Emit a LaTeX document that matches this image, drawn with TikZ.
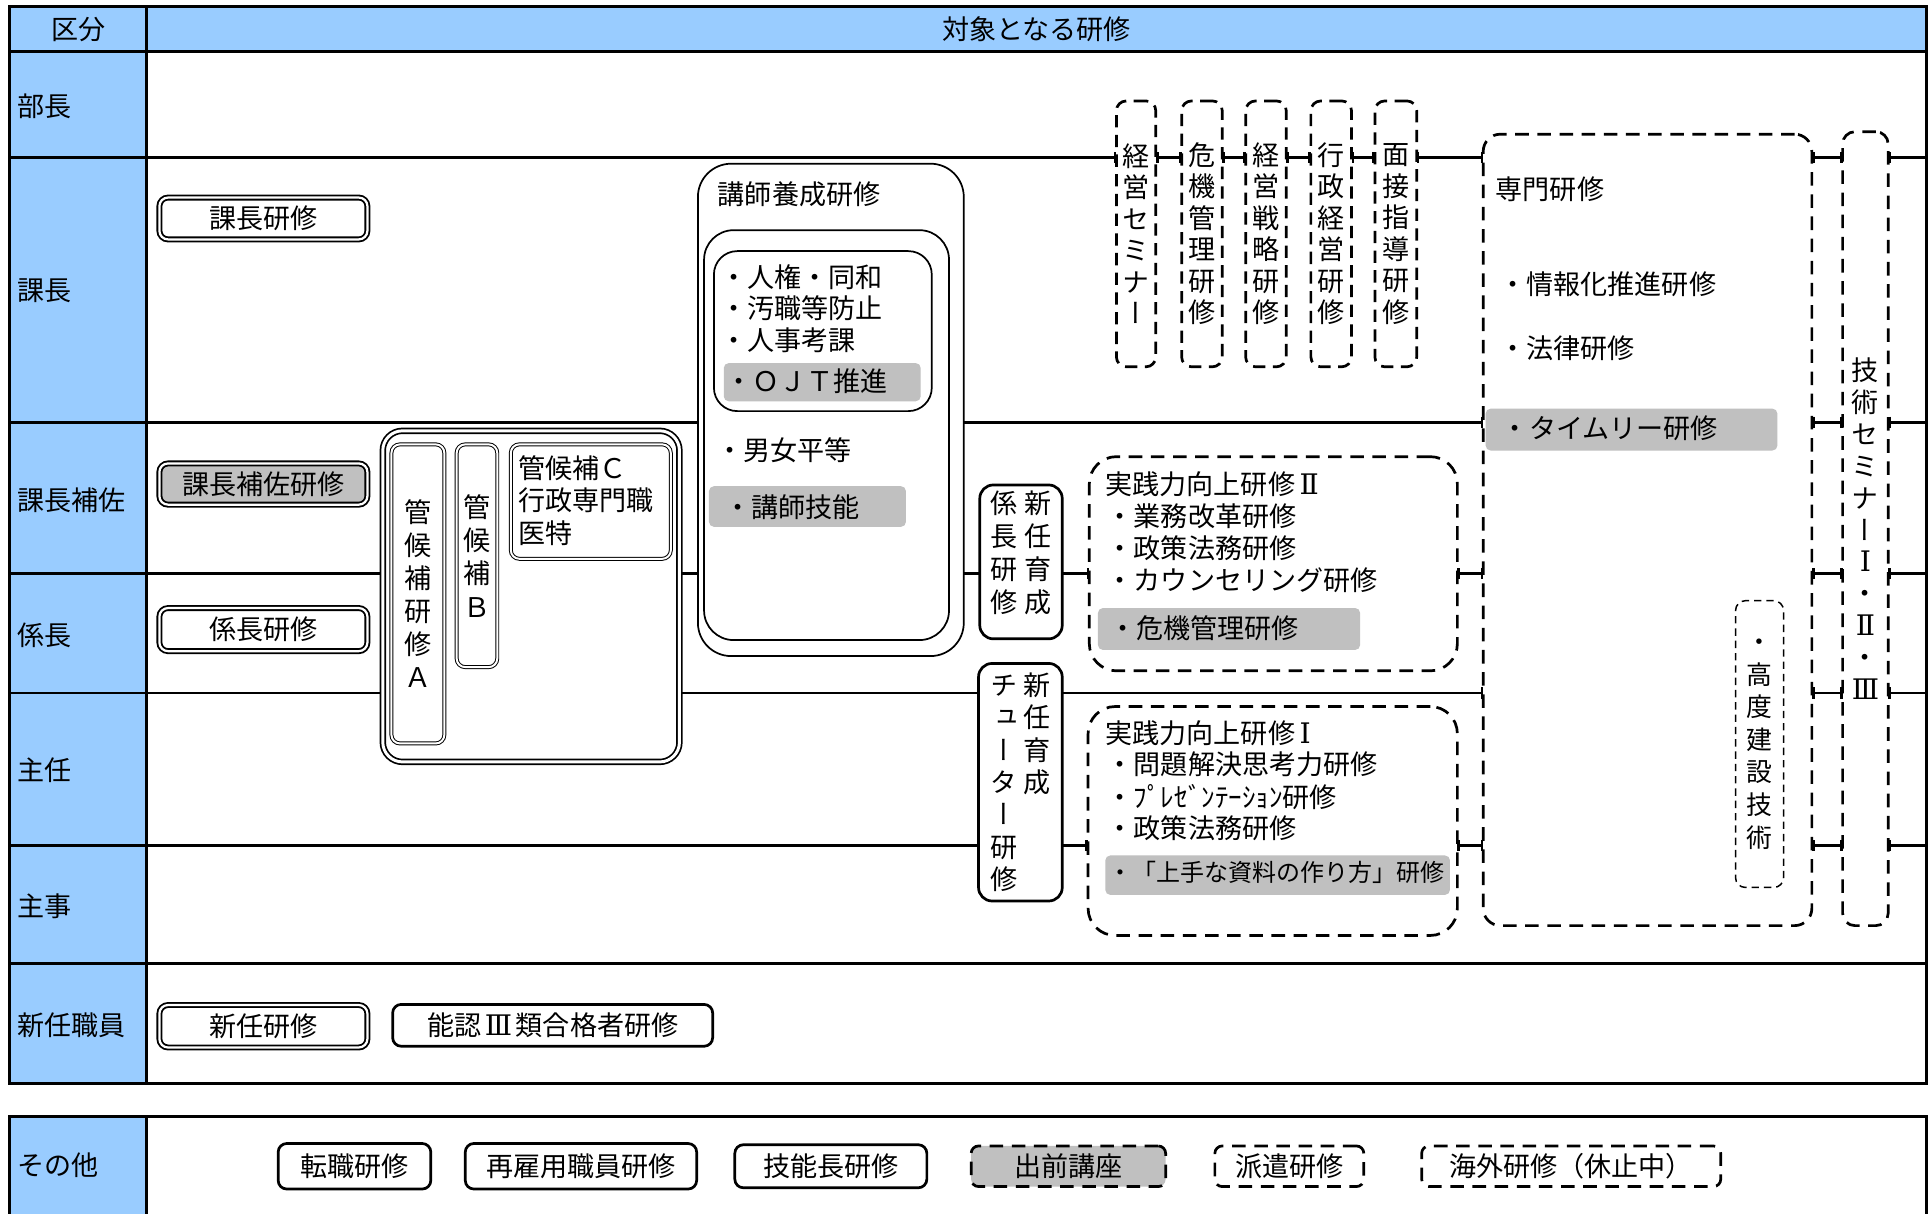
\documentclass[tikz,border=0pt]{standalone}
\usepackage{fontspec}
\setmainfont{Noto Sans CJK JP}
\newfontfamily\jpv[RawFeature=+vert]{Noto Sans CJK JP}
\newfontfamily\jrmn{DejaVu Serif}
\newcommand\jrn[1]{{\jrmn\fontsize{23}{23}\selectfont #1}}
\definecolor{hdr}{HTML}{99CCFF}
\definecolor{gr}{HTML}{C0C0C0}
\newcommand\jbx[7]{\node[#1, minimum width={#4-#2}, minimum height={#5-#3}] (#6) at ({(#2+#4)/2},{(#3+#5)/2}) {#7};}
\newcommand\jtk[1]{\draw[jtick] (#1) ++(0,-4.5) -- ++(0,9);}
\begin{document}
\begin{tikzpicture}[x=1pt, y=-1pt, inner sep=0pt, font=\fontsize{22}{26}\selectfont,
 tbl/.style={line width=2.2pt},
 dbl/.style={draw, fill=white, double, line width=1.5pt, double distance=1.8pt, rounded corners=7pt},
 big/.style={draw, fill=white, double, line width=1.4pt, double distance=2.4pt, rounded corners=16pt},
 tdbl/.style={draw, fill=white, double, line width=0.8pt, double distance=1.6pt, rounded corners=7pt},
 sol/.style={draw, fill=white, line width=2.2pt, rounded corners=7pt},
 lin/.style={draw, fill=white, line width=1.4pt},
 dsh/.style={draw, fill=white, line width=2.2pt, dash pattern=on 11pt off 7pt},
 tdsh/.style={draw, fill=white, line width=1.2pt, dash pattern=on 6pt off 4pt, rounded corners=8pt},
 gbox/.style={fill=gr, rounded corners=4pt},
 tl/.style={anchor=base west},
 vt/.style={align=center, font=\jpv\fontsize{22}{25.6}\selectfont},
 jtick/.style={line width=2.2pt}]
\useasboundingbox (0,0) rectangle (1568,986);
% table
\fill[hdr] (8,5) rectangle (1565,42);
\fill[hdr] (8,42) rectangle (119,880);
\fill[hdr] (8,907) rectangle (119,1010);
\foreach \y in {42,128,343,466,563,687,783} {\draw[tbl] (8,\y) -- (1565,\y);}
\draw[tbl] (119,5) -- (119,880);
\draw[tbl] (8,5) rectangle (1565,880);
\draw[tbl] (8,1010) -- (8,907) -- (1565,907) -- (1565,1010);
\draw[tbl] (119,907) -- (119,1010);
% headers and row labels
\node[anchor=base] (h1) at (64,32.4) {区分};
\node[anchor=base] (h2) at (842,32.4) {対象となる研修};
\node[tl] (r1) at (14,94.4) {部長};
\node[tl] (r2) at (14,244.4) {課長};
\node[tl] (r3) at (14,414.4) {課長補佐};
\node[tl] (r4) at (14,524.4) {係長};
\node[tl] (r5) at (14,634.4) {主任};
\node[tl] (r6) at (14,744.4) {主事};
\node[tl] (r7) at (14,841.4) {新任職員};
\node[tl] (r8) at (14,955.4) {その他};
% left boxes
\jbx{dbl}{129.5}{160.5}{298.5}{194.5}{kacho}{課長研修}
\jbx{dbl,fill=gr}{129.5}{376.5}{298.5}{410}{hosa}{課長補佐研修}
\jbx{dbl}{129.5}{494}{298.5}{529}{kakari}{係長研修}
\jbx{dbl}{129.5}{816.5}{298.5}{851}{shinnin}{新任研修}
\jbx{sol}{319}{816}{579}{850}{nonin}{能認\hspace{3pt}\jrn{Ⅲ}\hspace{3pt}類合格者研修}
% kanri kouho
\jbx{big}{311}{350}{552}{619}{kanout}{}
\jbx{tdbl,align=center,font=\jpv\fontsize{22}{26.8}\selectfont}{318}{361}{361}{604}{kanA}{管\\候\\補\\研\\修\\Ａ}
\jbx{tdbl,align=center,font=\jpv\fontsize{22}{27}\selectfont}{371}{361}{404}{542}{kanB}{管\\候\\補\\Ｂ}
\jbx{tdbl}{415}{361}{545}{454}{kanC}{}
\node[tl] (kc1) at (421,388.4) {管候補Ｃ};
\node[tl] (kc2) at (421,414.4) {行政専門職};
\node[tl] (kc3) at (421,441.4) {医特};
% koshi yosei
\jbx{lin,rounded corners=27pt}{567}{133}{783}{533}{kout}{}
\jbx{lin,rounded corners=24pt}{572}{187}{771}{520}{kmid}{}
\jbx{lin,rounded corners=19pt}{580}{204}{757}{334}{kin}{}
\jbx{gbox}{588}{295}{748}{326}{ojt}{}
\jbx{gbox}{576}{395}{736}{428}{ginou}{}
\node[tl] (k0) at (583,166.4) {講師養成研修};
\node[tl] (k1) at (585,233.4) {・人権・同和};
\node[tl] (k2) at (585,258.4) {・汚職等防止};
\node[tl] (k3) at (585,284.4) {・人事考課};
\node[tl] (k4) at (589,318.4) {・ＯＪＴ推進};
\node[tl] (k5) at (582,374.4) {・男女平等};
\node[tl] (k6) at (588,420.4) {・講師技能};
% top vertical dashed boxes
\jbx{dsh,rounded corners=8pt,dash pattern=on 10pt off 6pt,vt}{907}{82}{939}{298}{keiei}{経\\営\\セ\\ミ\\ナ\\ー}
\jbx{dsh,rounded corners=8pt,dash pattern=on 10pt off 6pt,vt}{960}{82}{993}{298}{kiki}{危\\機\\管\\理\\研\\修}
\jbx{dsh,rounded corners=8pt,dash pattern=on 10pt off 6pt,vt}{1012}{82}{1045}{298}{senryaku}{経\\営\\戦\\略\\研\\修}
\jbx{dsh,rounded corners=8pt,dash pattern=on 10pt off 6pt,vt}{1065}{82}{1098}{298}{gyosei}{行\\政\\経\\営\\研\\修}
\jbx{dsh,rounded corners=8pt,dash pattern=on 10pt off 6pt,vt}{1117}{82}{1151}{298}{mensetsu}{面\\接\\指\\導\\研\\修}
% senmon
\jbx{dsh,rounded corners=14pt}{1205}{109}{1472}{752}{senmon}{}
\jbx{gbox}{1207}{332}{1444}{366}{timely}{}
\node[tl] (s0) at (1215,162.4) {専門研修};
\node[tl] (s1) at (1218,239.4) {・情報化推進研修};
\node[tl] (s2) at (1218,291.4) {・法律研修};
\node[tl] (s3) at (1220,356.4) {・タイムリー研修};
\jbx{tdsh,vt,font=\jpv\fontsize{21}{26.5}\selectfont}{1410}{488}{1449}{721}{kodo}{・\\高\\度\\建\\設\\技\\術}
% gijutsu
\jbx{dsh,rounded corners=10pt,vt,font=\jpv\fontsize{22}{25.9}\selectfont}{1497}{107}{1534}{752}{gijutsu}{技\\術\\セ\\ミ\\ナ\\ー\\\jrn{Ⅰ}\\・\\\jrn{Ⅱ}\\・\\\jrn{Ⅲ}}
% new kakaricho / tutor
\jbx{sol,rounded corners=11pt}{796}{394}{863}{519}{kakarishin}{}
\node[align=center, font=\fontsize{22}{26.7}\selectfont] (kakarishintxt) at (829.5,449) {係\hspace{5pt}新\\長\hspace{5pt}任\\研\hspace{5pt}育\\修\hspace{5pt}成};
\jbx{sol,rounded corners=11pt,align=center,font=\jpv\fontsize{22}{26.3}\selectfont}{795}{539}{863}{732}{tutor}{チ\hspace{4.5pt}新\\ュ\hspace{4.5pt}任\\ー\hspace{4.5pt}育\\タ\hspace{4.5pt}成\\ー\hspace{4.5pt}\makebox[22pt]{}\\研\hspace{4.5pt}\makebox[22pt]{}\\修\hspace{4.5pt}\makebox[22pt]{}}
% jissen II
\jbx{dsh,rounded corners=22pt}{885}{371}{1184}{545}{js2}{}
\jbx{gbox}{892}{494}{1105}{528}{kikig}{}
\node[tl] (j20) at (898,401.4) {実践力向上研修\,\jrn{Ⅱ}};
\node[tl] (j21) at (899,427.4) {・業務改革研修};
\node[tl] (j22) at (899,453.4) {・政策法務研修};
\node[tl] (j23) at (899,479.4) {・カウンセリング研修};
\node[tl] (j24) at (901,518.4) {・危機管理研修};
% jissen I
\jbx{dsh,rounded corners=22pt}{884}{574}{1184}{760}{js1}{}
\jbx{gbox}{898}{695}{1178}{727}{shiryo}{}
\node[tl] (j10) at (898,604.4) {実践力向上研修\,\jrn{Ⅰ}};
\node[tl] (j11) at (899,629.4) {・問題解決思考力研修};
\node[tl] (j12) at (899,656.4) {・ﾌﾟﾚｾﾞﾝﾃｰｼｮﾝ研修};
\node[tl] (j13) at (899,681.4) {・政策法務研修};
\node[tl, font=\fontsize{19.5}{22}\selectfont] (j14) at (900,716.4) {・「上手な資料の作り方」研修};
% other
\jbx{sol}{226}{929}{350}{966}{tenshoku}{転職研修}
\jbx{sol}{378}{929}{566}{966}{saikoyo}{再雇用職員研修}
\jbx{sol}{597}{930}{753}{965}{ginocho}{技能長研修}
\jbx{dsh,fill=gr,rounded corners=6pt}{789}{931}{947}{964}{demae}{出前講座}
\jbx{dsh,rounded corners=6pt}{987}{931}{1108}{964}{haken}{派遣研修}
\jbx{dsh,rounded corners=6pt}{1155}{931}{1398}{964}{kaigai}{海外研修（休止中）}
% ticks where row lines meet dashed boxes
\foreach \n in {keiei,kiki,senryaku,gyosei,mensetsu} {\jtk{\n.west |- 0,128} \jtk{\n.east |- 0,128}}
\foreach \n in {senmon,gijutsu} {\foreach \y in {128,343,466,563,687} {\jtk{\n.west |- 0,\y} \jtk{\n.east |- 0,\y}}}
\jtk{js2.west |- 0,466} \jtk{js2.east |- 0,466}
\jtk{js1.west |- 0,687} \jtk{js1.east |- 0,687}
\end{tikzpicture}
\end{document}
